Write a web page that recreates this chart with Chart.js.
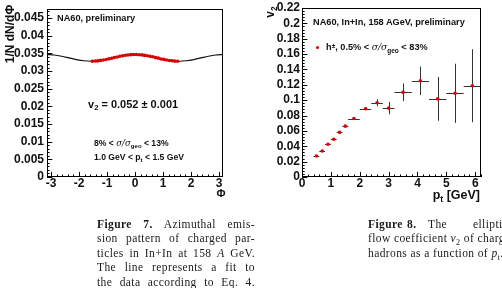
<!DOCTYPE html>
<html><head><meta charset="utf-8">
<script src="https://cdn.jsdelivr.net/npm/chart.js@4/dist/chart.umd.min.js"></script>
<style>
html,body{margin:0;padding:0;background:#fff;width:502px;height:288px;overflow:hidden;position:relative;font-family:"Liberation Sans",Arial,sans-serif;}
.t{position:absolute;white-space:nowrap;color:#111;font-weight:bold;line-height:1;}
.sub{font-size:70%;position:relative;top:0.35em;}
.sup{font-size:70%;position:relative;top:-0.45em;}
.sym{font-family:"DejaVu Serif","Liberation Serif",serif;font-style:italic;font-weight:normal;}
.cap{position:absolute;font-family:"Liberation Serif","Times New Roman",serif;font-size:11.5px;color:#1a1a1a;line-height:14.4px;letter-spacing:0.4px;}
.cap .j{text-align:justify;text-align-last:justify;}
.cap .n{white-space:nowrap;position:relative;height:14.4px;}
.cap .n span.w{position:absolute;top:0;}
</style></head>
<body>
<canvas id="c1" width="250" height="200" style="position:absolute;left:0;top:0;width:250px;height:200px"></canvas>
<canvas id="c2" width="252" height="200" style="position:absolute;left:250px;top:0;width:252px;height:200px"></canvas>

<!-- left plot texts -->
<div class="t" style="left:57px;top:13.5px;font-size:9.2px">NA60, preliminary</div>
<div class="t" style="left:88px;top:98.5px;font-size:11px">v<span class="sub">2</span> = 0.052 ± 0.001</div>
<div class="t" style="left:94px;top:138.7px;font-size:8.6px">8% &lt; <span class="sym">σ/σ</span><span class="sub">geo</span> &lt; 13%</div>
<div class="t" style="left:94px;top:152.7px;font-size:8.6px">1.0 GeV &lt; p<span class="sub">t</span> &lt; 1.5 GeV</div>
<div class="t" style="left:9.5px;top:33.5px;font-size:12px;transform:translate(-50%,-50%) rotate(-90deg)">1/N dN/dΦ</div>
<div class="t" style="left:221px;top:193px;font-size:11px;transform:translate(-50%,-50%)">Φ</div>

<!-- right plot texts -->
<div class="t" style="left:313px;top:18.4px;font-size:9.2px">NA60, In+In, 158 AGeV, preliminary</div>
<div style="position:absolute;left:315.5px;top:45.5px;width:3px;height:3px;border-radius:50%;background:#e00000"></div>
<div class="t" style="left:326px;top:42.4px;font-size:9.2px">h<span class="sup">±</span>, 0.5% &lt; <span class="sym">σ/σ</span><span class="sub">geo</span> &lt; 83%</div>
<div class="t" style="left:270px;top:12px;font-size:12px;transform:translate(-50%,-50%) rotate(-90deg)">v<span class="sub">2</span></div>
<div class="t" style="right:22px;top:188.5px;font-size:12.5px">p<span class="sub">t</span> [GeV]</div>

<!-- captions -->
<div class="cap" style="left:97px;top:217px;width:158px">
<div class="j"><b>Figure 7.</b> Azimuthal emis-</div>
<div class="j">sion pattern of charged par-</div>
<div class="j">ticles in In+In at 158 <i>A</i> GeV.</div>
<div class="j">The line represents a fit to</div>
<div class="j">the data according to Eq. 4.</div>
</div>
<div class="cap" style="left:368px;top:217px;width:200px">
<div class="n"><span class="w" style="left:0"><b>Figure</b></span><span class="w" style="left:39px"><b>8.</b></span><span class="w" style="left:60px">The</span><span class="w" style="left:105px">elliptic</span></div>
<div class="n">flow coefficient <i>v</i><span class="sub">2</span> of charged</div>
<div class="n">hadrons as a function of <i>p</i><span class="sub">t</span>.</div>
</div>

<script>
// ---------- data: left panel (azimuthal distribution) ----------
const phiData = [-1.52,-1.42,-1.33,-1.23,-1.13,-1.03,-0.93,-0.83,-0.74,-0.64,-0.54,-0.44,-0.34,-0.25,-0.15,-0.05,
                 0.05,0.15,0.25,0.34,0.44,0.54,0.64,0.74,0.83,0.93,1.03,1.13,1.23,1.33,1.42,1.52];
const dNdPhi = [0.03281,0.03286,0.03290,0.03303,0.03313,0.03331,0.03348,0.03364,0.03386,0.03401,0.03421,0.03433,0.03450,0.03457,0.03467,0.03469,
                0.03471,0.03465,0.03460,0.03446,0.03436,0.03418,0.03405,0.03383,0.03367,0.03345,0.03332,0.03314,0.03301,0.03292,0.03283,0.03279];
const phiBinHalf = [0.049,0.049,0.049,0.049,0.049,0.049,0.049,0.049,0.049,0.049,0.049,0.049,0.049,0.049,0.049,0.049,
                    0.049,0.049,0.049,0.049,0.049,0.049,0.049,0.049,0.049,0.049,0.049,0.049,0.049,0.049,0.049,0.049];
const dNdPhiErr = [0.00018,0.00018,0.00018,0.00018,0.00018,0.00018,0.00018,0.00018,0.00018,0.00018,0.00018,0.00018,0.00018,0.00018,0.00018,0.00018,
                   0.00018,0.00018,0.00018,0.00018,0.00018,0.00018,0.00018,0.00018,0.00018,0.00018,0.00018,0.00018,0.00018,0.00018,0.00018,0.00018];
const phiFit = [-3.1416,-2.8798,-2.618,-2.3562,-2.0944,-1.8326,-1.5708,-1.309,-1.0472,-0.7854,-0.5236,-0.2618,0,
                0.2618,0.5236,0.7854,1.0472,1.309,1.5708,1.8326,2.0944,2.3562,2.618,2.8798,3.1416];
const fitVals = [0.03470,0.03457,0.03422,0.03375,0.03328,0.03293,0.03280,0.03293,0.03328,0.03375,0.03422,0.03457,0.03470,
                 0.03457,0.03422,0.03375,0.03328,0.03293,0.03280,0.03293,0.03328,0.03375,0.03422,0.03457,0.03470];
const leftXTicks = [-3,-2,-1,0,1,2,3];
const leftXLabels = ["-3","-2","-1","0","1","2","3"];
const leftYTicks = [0,0.005,0.01,0.015,0.02,0.025,0.03,0.035,0.04,0.045];
const leftYLabels = ["0","0.005","0.01","0.015","0.02","0.025","0.03","0.035","0.04","0.045"];

// ---------- data: right panel (v2 vs pt) ----------
const ptVals = [0.5,0.7,0.9,1.1,1.3,1.5,1.8,2.2,2.6,3.0,3.5,4.1,4.7,5.3,5.9];
const v2Vals = [0.0274,0.0338,0.0427,0.0491,0.0581,0.0662,0.0761,0.0889,0.0966,0.0897,0.1102,0.1252,0.1017,0.1090,0.1188];
const ptErr  = [0.1,0.1,0.1,0.1,0.1,0.1,0.2,0.2,0.2,0.2,0.3,0.3,0.3,0.3,0.3];
const v2Err  = [0.0010,0.0010,0.0011,0.0012,0.0013,0.0014,0.0015,0.0016,0.0045,0.0080,0.0115,0.0185,0.0285,0.0385,0.0475];
const rightXTicks = [0,1,2,3,4,5,6];
const rightXLabels = ["0","1","2","3","4","5","6"];
const rightYTicks = [0,0.02,0.04,0.06,0.08,0.1,0.12,0.14,0.16,0.18,0.2,0.22];
const rightYLabels = ["0","0.02","0.04","0.06","0.08","0.1","0.12","0.14","0.16","0.18","0.2","0.22"];

// ---------- ROOT-like frame, ticks and error bars ----------
const rootStyle = {
  id: 'rootStyle',
  beforeDatasetDraw(chart, args) {
    const ds = chart.data.datasets[args.index];
    if (!ds.errX) return;
    const ctx = chart.ctx, xs = chart.scales.x, ys = chart.scales.y, a = chart.chartArea;
    ctx.save();
    ctx.beginPath(); ctx.rect(a.left, a.top, a.right - a.left, a.bottom - a.top); ctx.clip();
    ctx.strokeStyle = ds.errColor; ctx.lineWidth = 1;
    ctx.beginPath();
    ds.data.forEach((p, i) => {
      const px = Math.round(xs.getPixelForValue(p.x)) + 0.5, py = Math.round(ys.getPixelForValue(p.y)) + 0.5;
      ctx.moveTo(xs.getPixelForValue(p.x - ds.errX[i]), py);
      ctx.lineTo(xs.getPixelForValue(p.x + ds.errX[i]), py);
      ctx.moveTo(px, ys.getPixelForValue(p.y - ds.errY[i]));
      ctx.lineTo(px, ys.getPixelForValue(p.y + ds.errY[i]));
    });
    ctx.stroke();
    ctx.restore();
  },
  afterDraw(chart, args, o) {
    const ctx = chart.ctx, a = chart.chartArea, xs = chart.scales.x, ys = chart.scales.y;
    const W = a.right - a.left, H = a.bottom - a.top;
    ctx.save();
    ctx.strokeStyle = '#000'; ctx.lineWidth = 1;
    ctx.strokeRect(Math.round(a.left) + 0.5, Math.round(a.top) + 0.5, Math.round(W) - 1, Math.round(H) - 1);
    ctx.beginPath();
    const yLen = 0.03 * W, xLen = 0.03 * H;
    for (let k = Math.ceil(ys.min / o.yMinor - 1e-6); k * o.yMinor <= ys.max + 1e-9; k++) {
      const v = k * o.yMinor;
      const major = Math.abs(v / o.yMajor - Math.round(v / o.yMajor)) < 1e-6;
      const y = Math.round(ys.getPixelForValue(v)) + 0.5;
      ctx.moveTo(a.left, y); ctx.lineTo(a.left + (major ? yLen : yLen / 2), y);
    }
    for (let k = Math.ceil(xs.min / o.xMinor - 1e-6); k * o.xMinor <= xs.max + 1e-9; k++) {
      const v = k * o.xMinor;
      const major = Math.abs(v / o.xMajor - Math.round(v / o.xMajor)) < 1e-6;
      const x = Math.round(xs.getPixelForValue(v)) + 0.5;
      ctx.moveTo(x, a.bottom); ctx.lineTo(x, a.bottom - (major ? xLen : xLen / 2));
    }
    ctx.stroke();
    ctx.restore();
  }
};

const tickFont = {family: "'Liberation Sans', Arial, sans-serif", weight: 'bold', size: 12, lineHeight: 1};

function axis(min, max, tickVals, tickLabels, fitSize, isY, pad) {
  return {
    type: 'linear', min: min, max: max,
    grid: {display: false, drawTicks: false},
    border: {display: false},
    afterBuildTicks: s => { s.ticks = tickVals.map(v => ({value: v})); },
    afterFit: s => { if (isY) s.width = fitSize; else s.height = fitSize; },
    ticks: {
      font: tickFont, color: '#111', padding: pad, autoSkip: false, maxRotation: 0, minRotation: 0,
      includeBounds: false,
      callback: (v, i) => tickLabels[i]
    }
  };
}

Chart.register(rootStyle);

new Chart(document.getElementById('c1'), {
  type: 'scatter',
  data: {
    datasets: [
      {
        data: phiData.map((x, i) => ({x: x, y: dNdPhi[i]})),
        errX: phiBinHalf, errY: dNdPhiErr, errColor: '#8a0000',
        pointRadius: 1.8, pointBackgroundColor: '#d80000', pointBorderWidth: 0, pointStyle: 'circle'
      },
      {
        data: phiFit.map((x, i) => ({x: x, y: fitVals[i]})),
        showLine: true, borderColor: '#111', borderWidth: 1.2, pointRadius: 0,
        cubicInterpolationMode: 'monotone'
      }
    ]
  },
  options: {
    responsive: false, animation: false, devicePixelRatio: 1,
    layout: {padding: {left: 0, top: 7, right: 27, bottom: 0}},
    plugins: {legend: {display: false}, tooltip: {enabled: false},
      rootStyle: {yMinor: 0.001, yMajor: 0.005, xMinor: 0.2, xMajor: 1}},
    scales: {
      x: axis(-3.1416, 3.1416, leftXTicks, leftXLabels, 23, false, 1),
      y: axis(0, 0.0476, leftYTicks, leftYLabels, 47, true, 3)
    }
  }
});

new Chart(document.getElementById('c2'), {
  type: 'scatter',
  data: {
    datasets: [
      {
        data: ptVals.map((x, i) => ({x: x, y: v2Vals[i]})),
        errX: ptErr, errY: v2Err, errColor: '#333',
        pointRadius: 1.8, pointBackgroundColor: '#e00000', pointBorderWidth: 0, pointStyle: 'circle'
      }
    ]
  },
  options: {
    responsive: false, animation: false, devicePixelRatio: 1,
    layout: {padding: {left: 0, top: 7, right: 21, bottom: 0}},
    plugins: {legend: {display: false}, tooltip: {enabled: false},
      rootStyle: {yMinor: 0.004, yMajor: 0.02, xMinor: 0.2, xMajor: 1}},
    scales: {
      x: axis(0, 6.2, rightXTicks, rightXLabels, 23, false, 1),
      y: axis(0, 0.22, rightYTicks, rightYLabels, 52, true, 2)
    }
  }
});
</script>
</body></html>
